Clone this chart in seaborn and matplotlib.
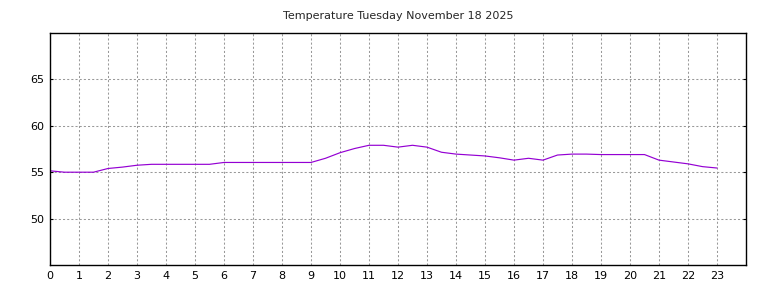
import matplotlib
matplotlib.use("Agg")
import matplotlib.pyplot as plt
import seaborn as sns
import pandas as pd

hours = [0, 0.5, 1, 1.5, 2, 2.5, 3, 3.5, 4, 4.5, 5, 5.5, 6, 6.5, 7, 7.5, 8, 8.5,
         9, 9.5, 10, 10.5, 11, 11.5, 12, 12.5, 13, 13.5, 14, 14.5, 15, 15.5, 16,
         16.5, 17, 17.5, 18, 18.5, 19, 19.5, 20, 20.5, 21, 21.5, 22, 22.5, 23]
temps = [55.15, 55.0, 55.0, 55.0, 55.4, 55.55, 55.75, 55.85, 55.85, 55.85, 55.85, 55.85,
         56.05, 56.05, 56.05, 56.05, 56.05, 56.05, 56.05, 56.5, 57.1, 57.55, 57.9,
         57.9, 57.7, 57.9, 57.7, 57.15, 56.95, 56.85, 56.75, 56.55, 56.3, 56.5, 56.3,
         56.85, 56.95, 56.95, 56.9, 56.9, 56.9, 56.9, 56.3, 56.1, 55.9, 55.6, 55.45]
title = "Temperature Tuesday November 18 2025"
xticks = list(range(0, 24))
yticks = [50, 55, 60, 65]

sns.set_style("white")
plt.rcParams['font.family'] = ['DejaVu Sans']

fig = plt.figure(figsize=(7.68, 2.88), dpi=100)
ax = fig.add_axes([50/768, 23/288, 696/768, 232/288])
df = pd.DataFrame({"hour": hours, "temp": temps})
sns.lineplot(data=df, x="hour", y="temp", ax=ax, color="#9400d3", linewidth=0.85)
ax.set_xlim(0, 24)
ax.set_ylim(45, 70)
ax.set_xticks(xticks)
ax.set_yticks(yticks)
ax.set_xlabel("")
ax.set_ylabel("")
ax.grid(True, color="#999999", linestyle=(0, (2, 2)), linewidth=0.75)
for s in ax.spines.values():
    s.set_color("black")
    s.set_linewidth(1.0)
ax.tick_params(axis="both", direction="in", length=2.5, labelsize=8, colors="black",
               left=True, right=True, bottom=False, top=False, pad=4)
ax.set_title(title, fontsize=8, pad=10)
fig.savefig("out.png", dpi=100, facecolor="white")
